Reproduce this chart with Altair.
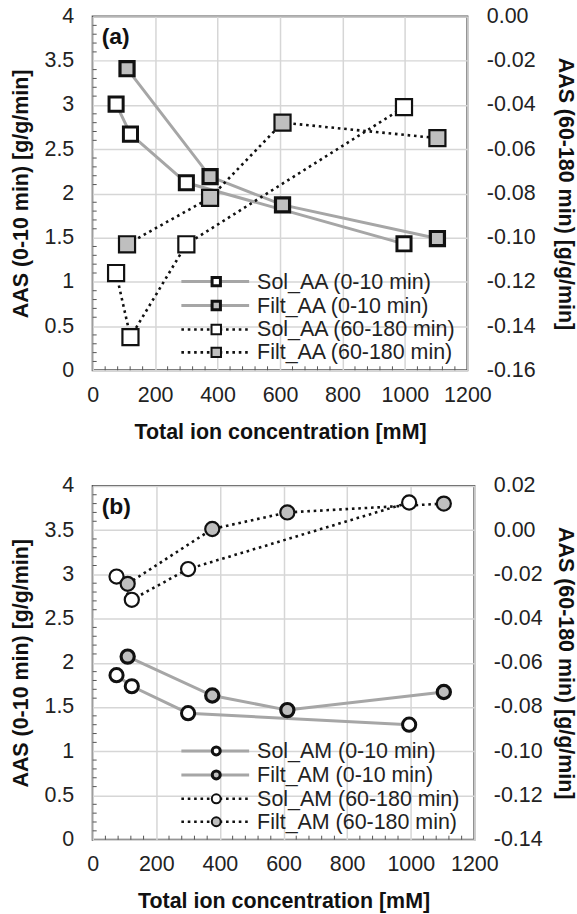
import altair as alt
import pandas as pd

FONT = "Liberation Sans"

# ---------------- data: panel (a) ----------------
a_sol_x = [75, 121, 300, 997]
a_filt_x = [110, 376, 608, 1104]
a_sol_010 = [3.01, 2.67, 2.12, 1.43]
a_filt_010 = [3.41, 2.19, 1.87, 1.49]
a_sol_60 = [-0.116, -0.145, -0.103, -0.041]
a_filt_60 = [-0.103, -0.082, -0.048, -0.055]
a_labels = ["Sol_AA (0-10 min)", "Filt_AA (0-10 min)",
            "Sol_AA (60-180 min)", "Filt_AA (60-180 min)"]

# ---------------- data: panel (b) ----------------
b_sol_x = [75, 123, 300, 995]
b_filt_x = [110, 376, 612, 1104]
b_sol_010 = [1.86, 1.735, 1.43, 1.30]
b_filt_010 = [2.07, 1.63, 1.465, 1.67]
b_sol_60 = [-0.021, -0.0315, -0.0176, 0.0125]
b_filt_60 = [-0.0243, 0.0005, 0.008, 0.012]
b_labels = ["Sol_AM (0-10 min)", "Filt_AM (0-10 min)",
            "Sol_AM (60-180 min)", "Filt_AM (60-180 min)"]

# ---------------- ticks ----------------
x_ticks = [0, 200, 400, 600, 800, 1000, 1200]
left_ticks = [0, 0.5, 1, 1.5, 2, 2.5, 3, 3.5, 4]
a_right_ticks = [-0.16, -0.14, -0.12, -0.10, -0.08, -0.06, -0.04, -0.02, 0.0]
b_right_ticks = [-0.14, -0.12, -0.10, -0.08, -0.06, -0.04, -0.02, 0.0, 0.02]
x_minor = [40, 80, 120, 160, 240, 280, 320, 360, 440, 480, 520, 560, 640, 680,
           720, 760, 840, 880, 920, 960, 1040, 1080, 1120, 1160]
y_minor = [0.1, 0.2, 0.3, 0.4, 0.6, 0.7, 0.8, 0.9, 1.1, 1.2, 1.3, 1.4, 1.6, 1.7,
           1.8, 1.9, 2.1, 2.2, 2.3, 2.4, 2.6, 2.7, 2.8, 2.9, 3.1, 3.2, 3.3, 3.4,
           3.6, 3.7, 3.8, 3.9]

GRAY_FILL = "#bfbfbf"
LINE_GRAY = "#a6a6a6"
EDGE = "#111111"
H = 355
FS = 21.5


def make_panel(tag, shape, sol_x, filt_x, sol_010, filt_010, sol_60, filt_60,
               right_ticks, width, labels, right_title_pad, big10, big60,
               small10, small60):
    xscale = alt.Scale(domain=[0, 1200], nice=False, zero=False)
    lscale = alt.Scale(domain=[0, 4], nice=False, zero=False)
    rscale = alt.Scale(domain=[right_ticks[0], right_ticks[-1]], nice=False, zero=False)

    xaxis = alt.Axis(values=x_ticks, grid=True, gridColor="#d6d6d6", gridWidth=1.5,
                     domain=False, ticks=False, labelFontSize=FS, labelFont=FONT,
                     labelColor="#222222", labelPadding=14, labelFlush=False,
                     labelExpr="datum.value + ''",
                     title="Total ion concentration [mM]", titleFont=FONT,
                     titleFontSize=FS, titleFontWeight="bold", titleColor="#111111",
                     titlePadding=16)
    laxis = alt.Axis(values=left_ticks, grid=True, gridColor="#d6d6d6", gridWidth=1.5,
                     domain=False, ticks=False, labelFontSize=FS, labelFont=FONT,
                     labelColor="#222222", labelPadding=19, labelFlush=False,
                     labelExpr="datum.value + ''",
                     title="AAS (0-10 min) [g/g/min]", titleFont=FONT,
                     titleFontSize=FS, titleFontWeight="bold", titleColor="#111111",
                     titlePadding=12)
    raxis = alt.Axis(values=right_ticks, grid=False, orient="right",
                     domain=False, ticks=False, labelFontSize=FS, labelFont=FONT,
                     labelColor="#222222", labelPadding=19, labelFlush=False,
                     labelExpr="(datum.value < -0.0001 ? '-' : '') + format(abs(datum.value), '.2f')",
                     title="AAS (60-180 min) [g/g/min]", titleFont=FONT,
                     titleFontSize=FS, titleFontWeight="bold", titleColor="#111111",
                     titlePadding=right_title_pad)

    X = alt.X("x:Q", scale=xscale, axis=xaxis)
    YL = alt.Y("y:Q", scale=lscale, axis=laxis)
    YR = alt.Y("y:Q", scale=rscale, axis=raxis)

    sol10 = pd.DataFrame({"x": sol_x, "y": sol_010})
    filt10 = pd.DataFrame({"x": filt_x, "y": filt_010})
    sol60 = pd.DataFrame({"x": sol_x, "y": sol_60})
    filt60 = pd.DataFrame({"x": filt_x, "y": filt_60})

    xminor = alt.Chart(pd.DataFrame({"x": x_minor})).mark_rule(
        color="#555555", strokeWidth=1).encode(x=X, y=alt.value(H), y2=alt.value(H - 4))
    yminor = alt.Chart(pd.DataFrame({"y": y_minor})).mark_rule(
        color="#555555", strokeWidth=1).encode(y=YL, x=alt.value(0), x2=alt.value(4))

    def solid(df):
        return alt.Chart(df).mark_line(color=LINE_GRAY, strokeWidth=3).encode(x=X, y=YL)

    def dotted(df, Y):
        return alt.Chart(df).mark_line(color=EDGE, strokeWidth=2.6,
                                       strokeDash=[2.6, 3.8]).encode(x=X, y=Y)

    def pts(df, Y, fill, size, sw):
        return alt.Chart(df).mark_point(shape=shape, filled=True, fill=fill, stroke=EDGE,
                                        strokeWidth=sw, size=size, opacity=1).encode(x=X, y=Y)

    left_group = alt.layer(
        xminor, yminor,
        solid(sol10), solid(filt10),
        pts(sol10, YL, "white", big10, 3), pts(filt10, YL, GRAY_FILL, big10, 3.2),
    )
    right_group = alt.layer(
        dotted(sol60, YR), dotted(filt60, YR),
        pts(sol60, YR, "white", big60, 2.2), pts(filt60, YR, GRAY_FILL, big60, 2.2),
    )

    one = pd.DataFrame({"d": [0]})
    rows = [266, 290, 314, 337]
    styles = [("solid", "white", small10, 3), ("solid", GRAY_FILL, small10, 3),
              ("dot", "white", small60, 2), ("dot", GRAY_FILL, small60, 2)]
    deco = []
    for ry, lab, (ls, fill, sz, sw) in zip(rows, labels, styles):
        if ls == "solid":
            rule = alt.Chart(one).mark_rule(color=LINE_GRAY, strokeWidth=3)
        else:
            rule = alt.Chart(one).mark_rule(color=EDGE, strokeWidth=2.6, strokeDash=[2.6, 3.8])
        deco.append(rule.encode(x=alt.value(89), x2=alt.value(157), y=alt.value(ry)))
        deco.append(alt.Chart(one).mark_point(shape=shape, filled=True, fill=fill, stroke=EDGE,
                                              strokeWidth=sw, size=sz, opacity=1)
                    .encode(x=alt.value(124), y=alt.value(ry)))
        deco.append(alt.Chart(one).mark_text(text=lab, align="left", baseline="middle",
                                             font=FONT, fontSize=FS, color="#222222")
                    .encode(x=alt.value(165), y=alt.value(ry + 1)))
    deco.append(alt.Chart(one).mark_text(text=tag, align="left", baseline="top", font=FONT,
                                         fontSize=23, fontWeight="bold", color="#111111")
                .encode(x=alt.value(9), y=alt.value(10)))
    deco_group = alt.layer(*deco)

    return alt.layer(left_group, right_group, deco_group).resolve_scale(
        y="independent").properties(width=width, height=H)


panel_a = make_panel("(a)", "square", a_sol_x, a_filt_x, a_sol_010, a_filt_010,
                     a_sol_60, a_filt_60, a_right_ticks, 376, a_labels, 18,
                     200, 260, 70, 90)
panel_b = make_panel("(b)", "circle", b_sol_x, b_filt_x, b_sol_010, b_filt_010,
                     b_sol_60, b_filt_60, b_right_ticks, 383, b_labels, 11,
                     175, 200, 64, 80)

chart = alt.vconcat(panel_a, panel_b, spacing=30).properties(
    padding={"left": 9, "top": 3, "right": 0, "bottom": 0},
    background="white",
).configure_view(stroke="#555555", strokeWidth=2)

chart.save("out.html", embed_options={"renderer": "svg", "actions": False})
